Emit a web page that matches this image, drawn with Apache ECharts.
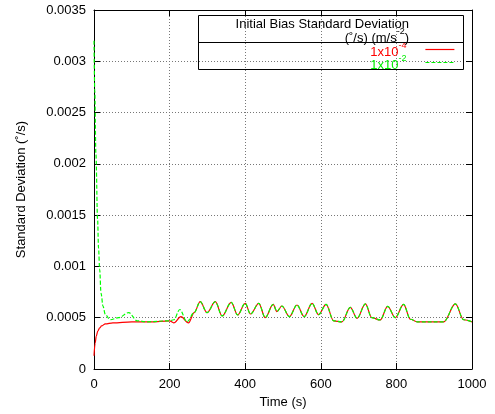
<!DOCTYPE html>
<html>
<head>
<meta charset="utf-8">
<script src="https://cdn.jsdelivr.net/npm/echarts@6/dist/echarts.min.js"></script>
<style>html,body{margin:0;padding:0;background:#fff}#c{width:495px;height:414px}</style>
</head>
<body>
<div id="c"></div>
<script>
// Shared tail (both curves coincide after ~270 s)
var tailTime  = [281, 299, 321, 339, 363, 380, 400, 414, 436, 453, 474, 484, 497, 517, 537, 556, 577, 594, 614, 634, 656, 678, 696, 718, 735, 757, 777, 797, 819, 837, 855, 925, 956, 978, 1000];
var tailValue = [0.000656, 0.00055, 0.000656, 0.000517, 0.00065, 0.000527, 0.00064, 0.000536, 0.00064, 0.0005, 0.00063, 0.00056, 0.000614, 0.00051, 0.000624, 0.00051, 0.00064, 0.00053, 0.00063, 0.00047, 0.00046, 0.0006, 0.000494, 0.000634, 0.0005, 0.000478, 0.00061, 0.0005, 0.00063, 0.000485, 0.00046, 0.00046, 0.000634, 0.00048, 0.00046];

// 1x10^-4 curve, start
var redTime  = [0, 3, 6, 10, 15, 20, 30, 50, 100, 150, 200, 211, 230, 250, 265];
var redValue = [0.00013, 0.00025, 0.00032, 0.00037, 0.0004, 0.00042, 0.00044, 0.00045, 0.00046, 0.00046, 0.00047, 0.00045, 0.00051, 0.00045, 0.00055];

// 1x10^-2 curve, start
var greenTime  = [0, 2, 5, 9.5, 12, 15, 18.5, 24, 30, 43, 65, 92, 114, 140, 200, 211, 227, 246, 265];
var greenValue = [0.0032, 0.00272, 0.0021, 0.00146, 0.00118, 0.00097, 0.00074, 0.00061, 0.00053, 0.00048, 0.0005, 0.00055, 0.00047, 0.00046, 0.00047, 0.00048, 0.00058, 0.00046, 0.00055];

var seriesNames = ['1x10-4', '1x10-2'];
var xTicks = ['0', '200', '400', '600', '800', '1000'];
var yTicks = ['0', '0.0005', '0.001', '0.0015', '0.002', '0.0025', '0.003', '0.0035'];

function pairs(t, v) {
  var out = [];
  for (var i = 0; i < t.length; i++) out.push([t[i], v[i]]);
  return out;
}
var redData = pairs(redTime.concat(tailTime), redValue.concat(tailValue));
var greenData = pairs(greenTime.concat(tailTime), greenValue.concat(tailValue));

var FONT = 'Liberation Sans, Arial, sans-serif';
var chart = echarts.init(document.getElementById('c'), null, {renderer: 'canvas'});

var gridLine = {show: true, lineStyle: {color: '#777', type: [1, 2], width: 1}};
var axisBase = {
  axisLine: {show: true, onZero: false, lineStyle: {color: '#000', width: 1}},
  axisTick: {show: true, inside: true, length: 6, lineStyle: {color: '#000'}}
};

function legendFmt(name) {
  var p = name.split('10');
  return '{n|1x10}{s|' + p[1] + '}{p|}';
}
var legendRich = {
  n: {fontFamily: FONT, fontSize: 13, padding: [5, 0, 0, 0]},
  s: {fontFamily: FONT, fontSize: 9, padding: [0, 0, 8, 0]},
  p: {width: 14}
};
function makeLegend(i, textColor, lineColor, dash, top) {
  return {
    orient: 'vertical', align: 'right', right: 40, top: top, padding: 0,
    itemWidth: 29, itemHeight: 13,
    itemStyle: {opacity: 0},
    lineStyle: {width: 1.2, color: lineColor, type: dash},
    formatter: legendFmt,
    data: [{name: seriesNames[i], textStyle: {color: textColor}}],
    textStyle: {fontFamily: FONT, fontSize: 13, rich: legendRich}
  };
}

var option = {
  backgroundColor: '#fff',
  animation: false,
  grid: {left: 94, right: 23, top: 10, bottom: 45},
  xAxis: [
    Object.assign({
      type: 'value', min: 0, max: 1000, interval: 200, position: 'bottom',
      name: 'Time (s)', nameLocation: 'middle', nameGap: 25,
      nameTextStyle: {fontFamily: FONT, fontSize: 13, color: '#000'},
      axisLabel: {fontFamily: FONT, fontSize: 13, color: '#000', margin: 9,
        formatter: function (v, i) { return xTicks[i]; }},
      splitLine: gridLine
    }, axisBase),
    Object.assign({
      type: 'value', min: 0, max: 1000, interval: 200, position: 'top',
      axisLabel: {show: false}, splitLine: {show: false}
    }, axisBase)
  ],
  yAxis: [
    Object.assign({
      type: 'value', min: 0, max: 0.0035, interval: 0.0005, position: 'left',
      name: 'Standard Deviation (˚/s)', nameLocation: 'middle', nameGap: 66,
      nameTextStyle: {fontFamily: FONT, fontSize: 13, color: '#000'},
      axisLabel: {fontFamily: FONT, fontSize: 13, color: '#000', margin: 8,
        formatter: function (v, i) { return yTicks[i]; }},
      splitLine: gridLine
    }, axisBase),
    Object.assign({
      type: 'value', min: 0, max: 0.0035, interval: 0.0005, position: 'right',
      axisLabel: {show: false}, splitLine: {show: false}
    }, axisBase)
  ],
  legend: [
    makeLegend(0, '#ff0000', '#ff0000', 'solid', 41),
    makeLegend(1, '#00ee00', '#00ee00', [4, 2], 54)
  ],
  graphic: [
    {type: 'rect', shape: {x: 198.5, y: 15.5, width: 265, height: 54}, style: {fill: 'none', stroke: '#000', lineWidth: 1}, z: 100},
    {type: 'line', shape: {x1: 198.5, y1: 42.5, x2: 463.5, y2: 42.5}, style: {stroke: '#000', lineWidth: 1}, z: 100},
    {type: 'text', right: 495 - 409, top: 18, style: {text: 'Initial Bias Standard Deviation', font: '13px ' + FONT, fill: '#000'}, z: 100},
    {type: 'text', right: 495 - 409, top: 27, style: {
      text: '{n|(˚/s) (m/s}{s|-2}{n|)}', fill: '#000',
      rich: {n: {fontFamily: FONT, fontSize: 13, padding: [8, 0, 0, 0]}, s: {fontFamily: FONT, fontSize: 9, padding: [0, 0, 6, 0]}}
    }, z: 100}
  ],
  series: [
    {name: seriesNames[0], type: 'line', data: redData, symbol: 'none', smooth: 0.35, smoothMonotone: 'x',
      lineStyle: {color: '#ff0000', width: 1.2}, itemStyle: {color: '#ff0000'}, z: 2},
    {name: seriesNames[1], type: 'line', data: greenData, symbol: 'none', smooth: 0.35, smoothMonotone: 'x',
      lineStyle: {color: '#00ff00', width: 1.2, type: [4, 2]}, itemStyle: {color: '#00ff00'}, z: 3}
  ]
};
chart.setOption(option);
</script>
</body>
</html>
